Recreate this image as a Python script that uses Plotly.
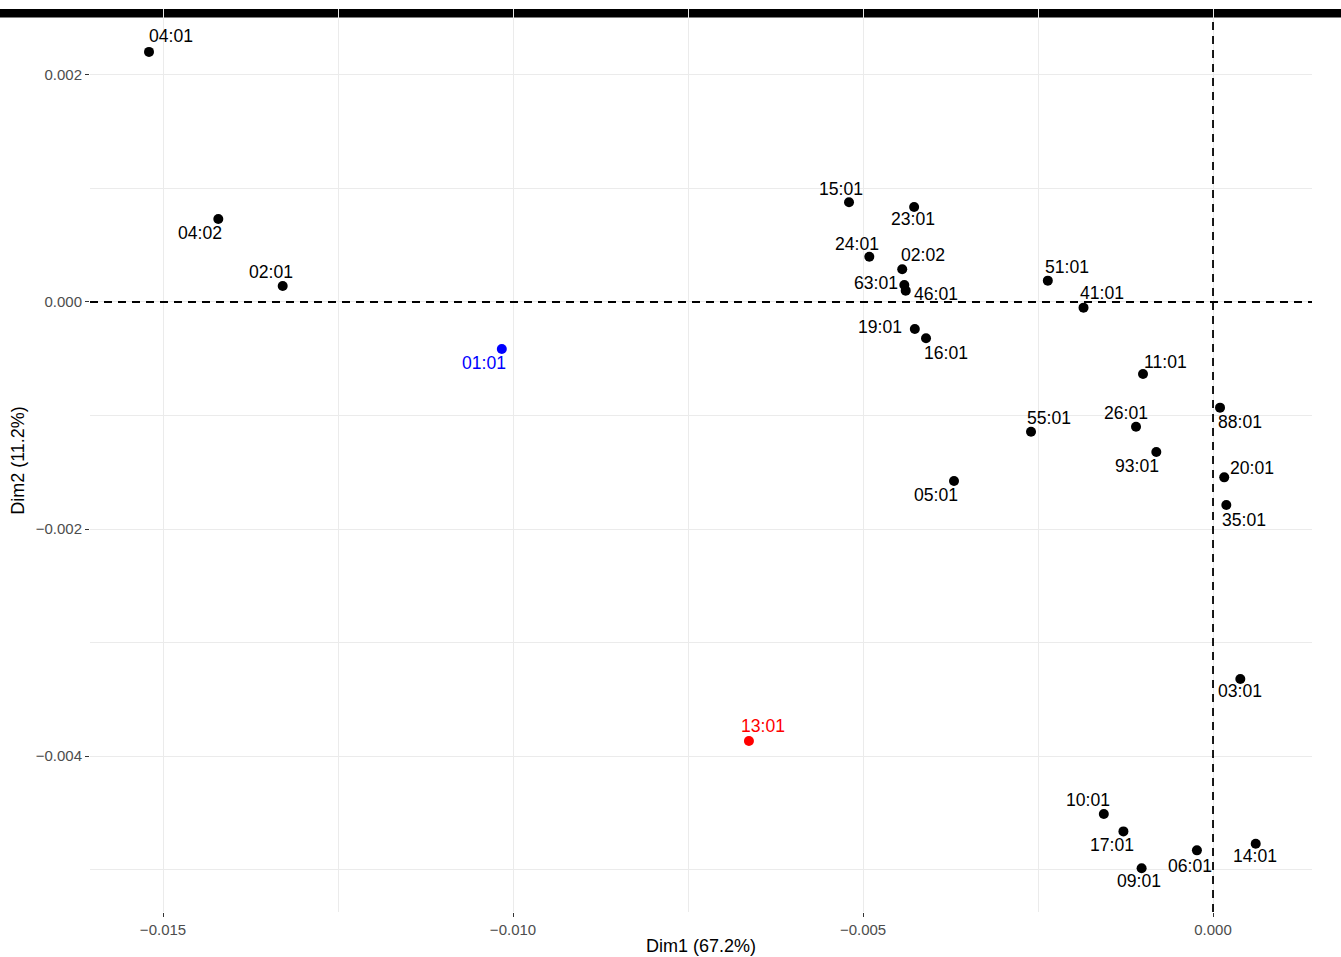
import plotly.graph_objects as go

# ---- data ----
labels = ["04:01", "04:02", "02:01", "01:01", "13:01", "15:01", "23:01", "24:01",
          "02:02", "63:01", "46:01", "19:01", "16:01", "05:01", "51:01", "41:01",
          "55:01", "11:01", "26:01", "93:01", "88:01", "20:01", "35:01", "03:01",
          "10:01", "17:01", "09:01", "06:01", "14:01"]
dim1 = [-0.01520, -0.01421, -0.01329, -0.01016, -0.00663, -0.00520, -0.00427, -0.00491,
        -0.00444, -0.00441, -0.00439, -0.00426, -0.00410, -0.00370, -0.00236, -0.00185,
        -0.00260, -0.00100, -0.00110, -0.00081, 0.00010, 0.00016, 0.00019, 0.00039,
        -0.00156, -0.00128, -0.00102, -0.00023, 0.00061]
dim2 = [0.002203, 0.000731, 0.000141, -0.000414, -0.003868, 0.000878, 0.000837, 0.000399,
        0.000288, 0.000150, 0.000100, -0.000238, -0.000320, -0.001577, 0.000188, -0.000050,
        -0.001143, -0.000634, -0.001099, -0.001322, -0.000931, -0.001545, -0.001789, -0.003322,
        -0.004511, -0.004664, -0.004989, -0.004831, -0.004773]
highlight = {"01:01": "#0000FF", "13:01": "#FF0000"}

x_tickvals = [-0.015, -0.010, -0.005, 0.000]
x_ticktext = ["\u22120.015", "\u22120.010", "\u22120.005", "0.000"]
y_tickvals = [0.002, 0.000, -0.002, -0.004]
y_ticktext = ["0.002", "0.000", "\u22120.002", "\u22120.004"]

# ---- label placement (pixel offsets from each point, label centre) ----
label_offsets = [(22, -16), (-18, 14), (-12, -14), (-18, 14), (14, -15), (-8, -13), (-1, 12), (-12, -13),
                 (21, -14), (-28, -2), (30, 3), (-35, -2), (20, 15), (-18, 14), (19, -14), (18, -15),
                 (18, -14), (22, -12), (-10, -14), (-19, 14), (20, 14), (28, -9), (18, 15), (0, 12),
                 (-16, -14), (-11, 14), (-3, 13), (-7, 16), (-1, 12)]

FONT = "Liberation Sans, Arial, Helvetica, sans-serif"
colors = [highlight.get(l, "#000000") for l in labels]

fig = go.Figure()
fig.add_trace(go.Scatter(
    x=dim1, y=dim2, mode="markers",
    marker=dict(size=10, color=colors, line=dict(width=0)),
    hoverinfo="text", text=labels, showlegend=False,
))

annotations = []
for lab, xv, yv, (dx, dy), c in zip(labels, dim1, dim2, label_offsets, colors):
    annotations.append(dict(
        x=xv, y=yv, xref="x", yref="y", text=lab, showarrow=False,
        xshift=dx, yshift=-dy, xanchor="center", yanchor="middle",
        font=dict(family=FONT, size=17.6, color=c),
    ))

shapes = [
    # black strip along the top
    dict(type="rect", xref="paper", yref="paper", x0=-0.08, x1=1.03, y0=0.9905, y1=1.0,
         fillcolor="#000000", line=dict(width=0), layer="below"),
    # reference lines
    dict(type="line", xref="x", yref="paper", x0=0, x1=0, y0=0, y1=0.9905,
         line=dict(color="#000000", width=1.8, dash="8px,6px")),
    dict(type="line", xref="paper", yref="y", x0=0, x1=1, y0=0, y1=0,
         line=dict(color="#000000", width=1.8, dash="8px,6px")),
]

fig.update_layout(
    width=1341, height=957,
    margin=dict(l=90, r=29, t=9, b=45, autoexpand=False),
    paper_bgcolor="#FFFFFF", plot_bgcolor="#FFFFFF",
    font=dict(family=FONT, color="#000000"),
    annotations=annotations, shapes=shapes,
    xaxis=dict(
        range=[-0.016043, 0.001414], tickvals=x_tickvals, ticktext=x_ticktext,
        showgrid=True, gridcolor="#EBEBEB", gridwidth=1.3, zeroline=False,
        minor=dict(dtick=0.0025, tick0=0.0025, showgrid=True, gridcolor="#EBEBEB", gridwidth=0.7),
        ticks="outside", ticklen=4, tickcolor="#333333", tickwidth=1.1,
        tickfont=dict(family=FONT, size=15, color="#4D4D4D"),
        title=dict(text="Dim1 (67.2%)", font=dict(family=FONT, size=18, color="#000000"), standoff=2),
        showline=False, automargin=False,
    ),
    yaxis=dict(
        range=[-0.005374, 0.002581], tickvals=y_tickvals, ticktext=y_ticktext,
        showgrid=True, gridcolor="#EBEBEB", gridwidth=1.3, zeroline=False,
        minor=dict(dtick=0.002, tick0=0.001, showgrid=True, gridcolor="#EBEBEB", gridwidth=0.7),
        ticks="outside", ticklen=4, tickcolor="#333333", tickwidth=1.1,
        tickfont=dict(family=FONT, size=15, color="#4D4D4D"),
        title=dict(text="Dim2 (11.2%)", font=dict(family=FONT, size=18, color="#000000"), standoff=6),
        showline=False, automargin=False,
    ),
)

fig.write_html("out.html", config={"displayModeBar": False},
               post_script="document.body.style.margin='0';document.body.style.overflow='hidden';")
